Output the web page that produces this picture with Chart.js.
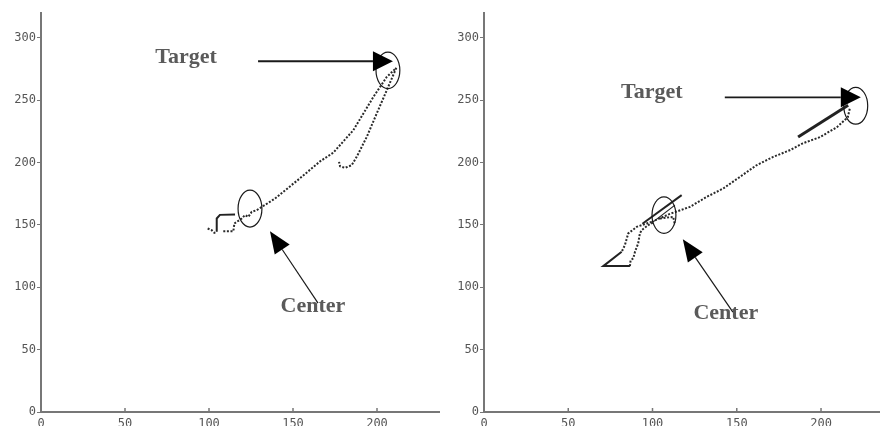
<!DOCTYPE html>
<html>
<head>
<meta charset="utf-8">
<script src="https://cdn.jsdelivr.net/npm/chart.js@4"></script>
<style>
  body { margin: 0; background: #fff; }
  #wrap { display: flex; width: 880px; height: 426px; overflow: hidden; }
  canvas { display: block; }
</style>
</head>
<body>
<div id="wrap">
  <canvas id="leftChart" width="440" height="426"></canvas>
  <canvas id="rightChart" width="440" height="426"></canvas>
</div>
<script>
// ticks shared by both panels
const xTicks = [0, 50, 100, 150, 200];
const yTicks = [0, 50, 100, 150, 200, 250, 300];
const yMax = 320;
const leftXMax = 237.5;
const rightXMax = 235;

// left panel trajectory strokes, [x, y]
const leftStart = [[99.2, 147.2], [101.6, 145.8], [103.2, 143.7], [104.6, 144.5]];
const leftHook = [[104.6, 144.5], [104.6, 148.5], [104.6, 155.2], [106.5, 158.1], [115.5, 158.4]];
const leftBox = [[108.5, 145], [114.5, 145], [115.1, 151.2]];
const leftOut = [[115.1, 151.2], [119.5, 155.2], [121.4, 157.9], [123.4, 156.5], [125.4, 160.5],
  [128.4, 161.9], [139.3, 171.2], [154.2, 187.5], [166.1, 201], [174, 208], [185.9, 226],
  [197.8, 252.6], [205.8, 268.7], [211.5, 276]];
const leftBack = [[211.5, 276], [205.8, 258], [199.8, 239.3], [193.9, 220.6], [187.9, 204.6],
  [184.9, 197.9], [180.9, 195.8], [178, 197.1], [177.4, 200.6]];

// right panel trajectory strokes
const rightLoopUp = [[99.5, 152.5], [96.5, 151.2], [90.6, 148.5], [85.6, 143.2], [83.6, 133.8], [81.7, 128.5]];
const rightLoopBase = [[81.7, 128.5], [70.8, 117], [86.6, 117]];
const rightLoopBack = [[86.6, 117], [87, 121.8], [88.6, 123.2], [89.6, 128.5], [91.5, 135.2],
  [92.5, 143.2], [93.5, 145.8], [97.4, 149.8], [100.5, 152]];
const rightDiag = [[94, 151], [117.3, 173.9]];
const rightDiag2 = [[100.4, 152.5], [113.3, 165.9]];
const rightKink = [[104.4, 155.2], [112.3, 156.5], [113.3, 150]];
const rightOut = [[99.5, 152.5], [110.3, 158.9], [122.2, 164.5], [132.1, 172.5], [141.9, 179.2],
  [151.8, 188.5], [161.7, 197.9], [171.6, 204.6], [181.4, 209.9], [189.2, 215.5],
  [199.3, 220.4], [209.4, 228.4], [215.9, 236.4], [217.1, 243.6]];
const rightFinal = [[186.4, 220.6], [216.1, 246]];

// annotations: ellipse [cx, cy, rx, ry], arrow [tailX, tailY, tipX, tipY], label [x, y, text]
const leftEllipses = [[206.5, 274, 7.1, 14.6], [124.4, 163.1, 7.1, 14.8]];
const leftArrows = [[129.2, 281.3, 209.5, 281.3], [164.9, 87.3, 136.3, 145]];
const leftLabels = [[86.3, 284.5, 'Target'], [161.9, 84.9, 'Center']];
const rightEllipses = [[220.6, 245.6, 7.1, 14.8], [106.8, 157.9, 7.1, 14.6]];
const rightArrows = [[142.9, 252.4, 223.6, 252.4], [147.7, 80.1, 118, 138.6]];
const rightLabels = [[99.6, 256.4, 'Target'], [143.5, 79.3, 'Center']];

Chart.defaults.font.family = '"DejaVu Sans Mono", monospace';

function pts(arr) {
  return arr.map(p => ({ x: p[0], y: p[1] }));
}

function dotted(arr) {
  return { data: pts(arr), showLine: true, borderColor: '#2a2a2a', borderWidth: 2,
    borderDash: [2, 1.6], pointRadius: 0, tension: 0 };
}

function solid(arr, w) {
  return { data: pts(arr), showLine: true, borderColor: '#222', borderWidth: w || 2,
    pointRadius: 0, tension: 0 };
}

// ellipses, arrows, labels and inner x ticks
const marksPlugin = {
  id: 'marks',
  afterDatasetsDraw(chart, args, opts) {
    const ctx = chart.ctx;
    const xs = chart.scales.x, ys = chart.scales.y;
    const px = v => xs.getPixelForValue(v);
    const py = v => ys.getPixelForValue(v);
    ctx.save();

    ctx.strokeStyle = '#777';
    ctx.lineWidth = 1.5;
    xTicks.slice(1).forEach(v => {
      ctx.beginPath();
      ctx.moveTo(px(v), ys.bottom);
      ctx.lineTo(px(v), ys.bottom - 4);
      ctx.stroke();
    });

    ctx.strokeStyle = '#1a1a1a';
    ctx.lineWidth = 1.2;
    opts.ellipses.forEach(e => {
      const rx = Math.abs(px(e[0] + e[2]) - px(e[0]));
      const ry = Math.abs(py(e[1] + e[3]) - py(e[1]));
      ctx.beginPath();
      ctx.ellipse(px(e[0]), py(e[1]), rx, ry, 0, 0, Math.PI * 2);
      ctx.stroke();
    });

    opts.arrows.forEach((a, i) => {
      const x0 = px(a[0]), y0 = py(a[1]), x1 = px(a[2]), y1 = py(a[3]);
      const ang = Math.atan2(y1 - y0, x1 - x0);
      const len = i === 0 ? 20 : 22;
      const half = i === 0 ? 10 : 9;
      const bx = x1 - len * Math.cos(ang), by = y1 - len * Math.sin(ang);
      ctx.strokeStyle = '#1a1a1a';
      ctx.lineWidth = i === 0 ? 1.8 : 1.2;
      ctx.beginPath();
      ctx.moveTo(x0, y0);
      ctx.lineTo(bx, by);
      ctx.stroke();
      ctx.fillStyle = '#000';
      ctx.beginPath();
      ctx.moveTo(x1, y1);
      ctx.lineTo(bx + half * Math.sin(ang), by - half * Math.cos(ang));
      ctx.lineTo(bx - half * Math.sin(ang), by + half * Math.cos(ang));
      ctx.closePath();
      ctx.fill();
    });

    ctx.fillStyle = '#5a5a5a';
    ctx.font = 'bold 22px "Liberation Serif", serif';
    ctx.textAlign = 'center';
    ctx.textBaseline = 'middle';
    opts.labels.forEach(l => {
      ctx.fillText(l[2], px(l[0]), py(l[1]));
    });
    ctx.restore();
  }
};

function makeChart(id, datasets, xMax, yWidth, marks) {
  return new Chart(document.getElementById(id), {
    type: 'scatter',
    data: { datasets: datasets },
    options: {
      responsive: false,
      animation: false,
      layout: { padding: { top: 13, right: 0, left: 0, bottom: 0 } },
      plugins: {
        legend: { display: false },
        tooltip: { enabled: false },
        marks: marks
      },
      scales: {
        x: {
          type: 'linear', min: 0, max: xMax,
          afterBuildTicks: s => { s.ticks = xTicks.map(v => ({ value: v })); },
          afterFit: s => { s.height = 14; },
          border: { color: '#777', width: 2 },
          grid: { drawOnChartArea: false, drawTicks: false },
          ticks: { color: '#555', font: { size: 12 }, padding: 5, maxRotation: 0, includeBounds: false }
        },
        y: {
          type: 'linear', min: 0, max: yMax,
          afterBuildTicks: s => { s.ticks = yTicks.map(v => ({ value: v })); },
          afterFit: s => { s.width = yWidth; },
          border: { color: '#777', width: 2 },
          grid: { drawOnChartArea: false, drawTicks: true, tickLength: 4, color: '#777' },
          ticks: { color: '#555', font: { size: 12 }, padding: 1, includeBounds: false }
        }
      }
    },
    plugins: [marksPlugin]
  });
}

makeChart('leftChart', [
  dotted(leftStart), solid(leftHook), dotted(leftBox), dotted(leftOut), dotted(leftBack)
], leftXMax, 41, { ellipses: leftEllipses, arrows: leftArrows, labels: leftLabels });

makeChart('rightChart', [
  dotted(rightLoopUp), solid(rightLoopBase), dotted(rightLoopBack), solid(rightDiag),
  solid(rightDiag2, 1.2), dotted(rightKink), dotted(rightOut), solid(rightFinal, 3)
], rightXMax, 44, { ellipses: rightEllipses, arrows: rightArrows, labels: rightLabels });
</script>
</body>
</html>
